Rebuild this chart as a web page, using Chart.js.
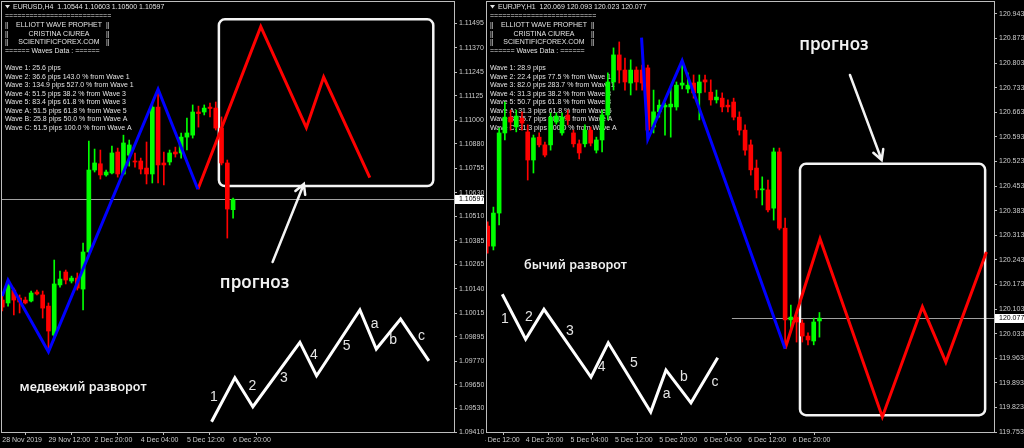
<!DOCTYPE html>
<html>
<head>
<meta charset="utf-8">
<script src="https://cdn.jsdelivr.net/npm/chart.js@4.4.1/dist/chart.umd.min.js"></script>
<style>
  html, body { margin: 0; padding: 0; background: #000; overflow: hidden; }
  #left { position: absolute; left: 0; top: 0; }
  #right { position: absolute; left: 485px; top: 0; }
</style>
</head>
<body>
<canvas id="left" width="484" height="448"></canvas>
<canvas id="right" width="539" height="448"></canvas>
<script>
// ===== EURUSD, H4 =====
var eurTimeLabels = ['28 Nov 2019', '29 Nov 12:00', '2 Dec 20:00', '4 Dec 04:00', '5 Dec 12:00', '6 Dec 20:00'];
var eurTimeIdx = [0, 8, 16, 24, 32, 40];
var eurPriceTicks = [1.09410, 1.09530, 1.09650, 1.09770, 1.09895, 1.10015, 1.10140, 1.10265, 1.10385,
                     1.10510, 1.10630, 1.10755, 1.10880, 1.11000, 1.11125, 1.11245, 1.11370, 1.11495];
var eurOpen  = [1.10083, 1.10068, 1.10134, 1.10093, 1.10083, 1.10078, 1.10124, 1.10109, 1.10052, 1.09904,
                1.10160, 1.10226, 1.10180, 1.10195, 1.10139, 1.10328, 1.10746, 1.10778, 1.10721, 1.10731,
                1.10838, 1.10726, 1.10822, 1.10792, 1.10792, 1.10756, 1.10726, 1.11067, 1.10782, 1.10787,
                1.10838, 1.10833, 1.10914, 1.10924, 1.11042, 1.11042, 1.11067, 1.11062, 1.10960, 1.10782, 1.10544];
var eurHigh  = [1.10103, 1.10185, 1.10144, 1.10109, 1.10098, 1.10129, 1.10134, 1.10129, 1.10068, 1.10287,
                1.10231, 1.10236, 1.10205, 1.10221, 1.10374, 1.10894, 1.10853, 1.10848, 1.10746, 1.10868,
                1.10858, 1.10924, 1.10899, 1.10833, 1.10807, 1.10889, 1.11083, 1.11158, 1.10838, 1.10848,
                1.10863, 1.10935, 1.11011, 1.11078, 1.11072, 1.11078, 1.11088, 1.11093, 1.11017, 1.10797, 1.10603];
var eurLow   = [1.10027, 1.10052, 1.10007, 1.10017, 1.10063, 1.10073, 1.10109, 1.09991, 1.09819, 1.09879,
                1.10149, 1.10165, 1.10170, 1.10134, 1.10032, 1.10323, 1.10736, 1.10700, 1.10715, 1.10726,
                1.10710, 1.10721, 1.10766, 1.10761, 1.10726, 1.10675, 1.10680, 1.10680, 1.10670, 1.10772,
                1.10812, 1.10807, 1.10848, 1.10909, 1.10965, 1.11027, 1.11017, 1.10950, 1.10772, 1.10399, 1.10500];
var eurClose = [1.10047, 1.10160, 1.10083, 1.10073, 1.10068, 1.10119, 1.10114, 1.10042, 1.09925, 1.10165,
                1.10190, 1.10185, 1.10195, 1.10144, 1.10328, 1.10746, 1.10782, 1.10721, 1.10736, 1.10833,
                1.10726, 1.10884, 1.10874, 1.10787, 1.10751, 1.10726, 1.11067, 1.10772, 1.10772, 1.10833,
                1.10828, 1.10914, 1.10935, 1.11042, 1.11034, 1.11062, 1.11060, 1.10960, 1.10782, 1.10547, 1.10597];
// elliott zigzag (blue) and forecast (red)
var eurWaveIdx = [0, 1, 8, 27, 33.9];
var eurWavePrice = [1.10103, 1.10185, 1.09819, 1.11158, 1.10648];
var eurForecastIdx = [33.9, 44.8, 52.7, 55.7, 63.7];
var eurForecastPrice = [1.10648, 1.11477, 1.10962, 1.11220, 1.10707];
// sketch of the wave count
var eurSketchIdx = [36.27, 40.31, 43.43, 51.58, 54.47, 61.98, 64.82, 69.03, 73.93];
var eurSketchPrice = [1.09462, 1.09687, 1.09539, 1.09867, 1.09697, 1.10032, 1.09833, 1.09986, 1.09773];
var eurSketchNames = ['1', '2', '3', '4', '5', 'a', 'b', 'c'];
var eurSketchNameIdx = [36.67, 43.33, 48.8, 54.0, 59.67, 64.52, 67.76, 72.67];
var eurSketchNamePrice = [1.09587, 1.09644, 1.09684, 1.09802, 1.09848, 1.09961, 1.09879, 1.09899];
var eurBoxIdx = [37.54, 74.7];
var eurBoxPrice = [1.11515, 1.10664];
var eurArrowIdx = [46.85, 52.27];
var eurArrowPrice = [1.10277, 1.10675];
var eurNotes = ['прогноз', 'медвежий разворот'];
var eurNoteIdx = [43.73, 14.0];
var eurNotePrice = [1.10170, 1.09639];
var eurWaves = ['Wave 1: 25.6 pips',
                'Wave 2: 36.6 pips 143.0 % from Wave 1',
                'Wave 3: 134.9 pips 527.0 % from Wave 1',
                'Wave 4: 51.5 pips 38.2 % from Wave 3',
                'Wave 5: 83.4 pips 61.8 % from Wave 3',
                'Wave A: 51.5 pips 61.8 % from Wave 5',
                'Wave B: 25.8 pips 50.0 % from Wave A',
                'Wave C: 51.5 pips 100.0 % from Wave A'];

// ===== EURJPY, H1 =====
var jpyTimeLabels = ['4 Dec 12:00', '4 Dec 20:00', '5 Dec 04:00', '5 Dec 12:00', '5 Dec 20:00', '6 Dec 04:00', '6 Dec 12:00', '6 Dec 20:00'];
var jpyTimeIdx = [-1, 6.64, 14.5, 22.26, 30, 37.82, 45.56, 53.32];
var jpyPriceTicks = [119.753, 119.823, 119.893, 119.963, 120.033, 120.103, 120.173, 120.243, 120.313,
                     120.383, 120.453, 120.523, 120.593, 120.663, 120.733, 120.803, 120.873, 120.943];
var jpyOpen  = [120.339, 120.282, 120.376, 120.604, 120.649, 120.621, 120.646, 120.607, 120.527, 120.592,
                120.570, 120.570, 120.635, 120.604, 120.655, 120.604, 120.573, 120.573, 120.612, 120.555,
                120.584, 120.655, 120.749, 120.826, 120.783, 120.746, 120.783, 120.783, 120.789, 120.621,
                120.664, 120.678, 120.678, 120.678, 120.740, 120.729, 120.746, 120.718, 120.755, 120.720,
                120.698, 120.703, 120.683, 120.692, 120.649, 120.612, 120.570, 120.504, 120.442, 120.442,
                120.390, 120.550, 120.333, 120.072, 120.080, 120.063, 120.026, 120.012, 120.069];
var jpyHigh  = [120.351, 120.393, 120.618, 120.692, 120.669, 120.669, 120.664, 120.627, 120.598, 120.604,
                120.578, 120.661, 120.661, 120.661, 120.669, 120.612, 120.584, 120.627, 120.621, 120.592,
                120.669, 120.775, 120.846, 120.863, 120.817, 120.812, 120.792, 120.797, 120.797, 120.726,
                120.698, 120.689, 120.735, 120.749, 120.810, 120.775, 120.769, 120.769, 120.769, 120.755,
                120.726, 120.718, 120.698, 120.703, 120.664, 120.627, 120.584, 120.527, 120.479, 120.470,
                120.561, 120.561, 120.362, 120.114, 120.086, 120.072, 120.035, 120.077, 120.093];
var jpyLow   = [120.262, 120.271, 120.342, 120.584, 120.612, 120.607, 120.612, 120.470, 120.490, 120.564,
                120.536, 120.555, 120.629, 120.598, 120.627, 120.564, 120.530, 120.564, 120.567, 120.547,
                120.550, 120.641, 120.726, 120.746, 120.726, 120.712, 120.726, 120.726, 120.586, 120.604,
                120.649, 120.598, 120.592, 120.669, 120.729, 120.718, 120.703, 120.641, 120.720, 120.683,
                120.689, 120.664, 120.664, 120.641, 120.598, 120.541, 120.484, 120.419, 120.399, 120.379,
                120.356, 120.328, 120.000, 120.043, 120.009, 120.009, 120.001, 120.001, 120.023];
var jpyClose = [120.282, 120.376, 120.604, 120.649, 120.635, 120.652, 120.632, 120.527, 120.590, 120.570,
                120.541, 120.649, 120.652, 120.649, 120.641, 120.573, 120.547, 120.612, 120.575, 120.584,
                120.655, 120.749, 120.826, 120.783, 120.749, 120.783, 120.749, 120.746, 120.612, 120.664,
                120.683, 120.683, 120.686, 120.740, 120.746, 120.740, 120.718, 120.749, 120.749, 120.698,
                120.706, 120.678, 120.678, 120.649, 120.612, 120.555, 120.499, 120.442, 120.444, 120.385,
                120.550, 120.333, 120.072, 120.080, 120.066, 120.026, 120.015, 120.066, 120.077];
var jpyWaveIdx = [26.9, 28, 34, 52];
var jpyWavePrice = [120.875, 120.586, 120.810, 119.990];
var jpyForecastIdx = [52, 58.1, 69, 76, 80.1, 87.2];
var jpyForecastPrice = [119.990, 120.303, 119.796, 120.109, 119.952, 120.265];
var jpySketchIdx = [2.55, 6.64, 9.84, 18.06, 21.08, 28.5, 31.17, 35.54, 40.21];
var jpySketchPrice = [120.145, 120.017, 120.102, 119.909, 120.007, 119.810, 119.929, 119.836, 119.964];
var jpySketchNames = ['1', '2', '3', '4', '5', 'a', 'b', 'c'];
var jpySketchNameIdx = [3.02, 7.22, 14.39, 19.93, 25.58, 31.29, 34.32, 39.74];
var jpySketchNamePrice = [120.074, 120.081, 120.041, 119.937, 119.948, 119.861, 119.910, 119.896];
var jpyBoxIdx = [54.6, 86.97];
var jpyBoxPrice = [120.516, 119.801];
var jpyArrowIdx = [63.34, 68.88];
var jpyArrowPrice = [120.769, 120.527];
var jpyNotes = ['прогноз', 'бычий разворот'];
var jpyNoteIdx = [60.54, 15.35];
var jpyNotePrice = [120.854, 120.228];
var jpyWaves = ['Wave 1: 28.9 pips',
                'Wave 2: 22.4 pips 77.5 % from Wave 1',
                'Wave 3: 82.0 pips 283.7 % from Wave 1',
                'Wave 4: 31.3 pips 38.2 % from Wave 3',
                'Wave 5: 50.7 pips 61.8 % from Wave 3',
                'Wave A: 31.3 pips 61.8 % from Wave 5',
                'Wave B: 15.7 pips 50.0 % from Wave A',
                'Wave C: 31.3 pips 100.0 % from Wave A'];

var SMALL = "7px 'Liberation Sans', Arial, sans-serif";
var GREY = '#cccccc';

function pts(xs, ys) {
  return xs.map(function(v, i) { return {x: v, y: ys[i]}; });
}

function candleSets(open, high, low, close) {
  var body = [], wick = [], col = [];
  for (var i = 0; i < open.length; i++) {
    body.push({x: i, y: [open[i], close[i]]});
    wick.push({x: i, y: [low[i], high[i]]});
    col.push(close[i] >= open[i] ? '#00ff00' : '#ff0000');
  }
  return [
    {type: 'bar', data: body, backgroundColor: col, barThickness: 4, minBarLength: 1, grouped: false, order: 3},
    {type: 'bar', data: wick, backgroundColor: col, barThickness: 1, grouped: false, order: 4}
  ];
}

function arrow(ctx, x0, y0, x1, y1) {
  var ang = Math.atan2(y1 - y0, x1 - x0), len = 11, spread = 0.5;
  ctx.beginPath();
  ctx.moveTo(x0, y0);
  ctx.lineTo(x1, y1);
  ctx.moveTo(x1 - len * Math.cos(ang - spread), y1 - len * Math.sin(ang - spread));
  ctx.lineTo(x1, y1);
  ctx.lineTo(x1 - len * Math.cos(ang + spread), y1 - len * Math.sin(ang + spread));
  ctx.stroke();
}

// MT4 style overlay: info text, price line, boxes, arrows, notes, frame
var mtPlugin = {
  id: 'mt',
  beforeDatasetsDraw: function(chart, args, o) {
    var ctx = chart.ctx, a = chart.chartArea, xs = chart.scales.x, ys = chart.scales.y;
    ctx.save();
    // current price line
    var py = Math.round(ys.getPixelForValue(o.last)) + 0.5;
    var px0 = o.lineFrom == null ? a.left : xs.getPixelForValue(o.lineFrom);
    ctx.strokeStyle = '#a0a0a0';
    ctx.lineWidth = 1;
    ctx.beginPath(); ctx.moveTo(px0, py); ctx.lineTo(a.right, py); ctx.stroke();

    // header and waves data
    ctx.fillStyle = '#e2e2e2';
    ctx.font = SMALL;
    ctx.textBaseline = 'middle';
    ctx.textAlign = 'left';
    ctx.beginPath();
    ctx.moveTo(a.left + 3, 5); ctx.lineTo(a.left + 8, 5); ctx.lineTo(a.left + 5.5, 8.5);
    ctx.closePath(); ctx.fill();
    ctx.fillText(o.header, a.left + 11, 7);
    var rule = '==========================';
    ctx.fillText(rule, a.left + 3, 16);
    var title = ['ELLIOTT WAVE PROPHET', 'CRISTINA CIUREA', 'SCIENTIFICFOREX.COM'];
    for (var i = 0; i < 3; i++) {
      var ty = 25 + i * 8.7;
      ctx.textAlign = 'left';
      ctx.fillText('||', a.left + 3, ty);
      ctx.fillText('||', a.left + 104, ty);
      ctx.textAlign = 'center';
      ctx.fillText(title[i], a.left + 57, ty);
    }
    ctx.textAlign = 'left';
    ctx.fillText('====== Waves Data : ======', a.left + 3, 51.5);
    o.waves.forEach(function(t, k) { ctx.fillText(t, a.left + 3, 68.3 + k * 8.5); });

    // forecast boxes
    ctx.strokeStyle = '#f4f4f4';
    ctx.lineWidth = 2.5;
    var bx0 = xs.getPixelForValue(o.boxIdx[0]), bx1 = xs.getPixelForValue(o.boxIdx[1]);
    var by0 = ys.getPixelForValue(o.boxPrice[0]), by1 = ys.getPixelForValue(o.boxPrice[1]);
    ctx.beginPath();
    ctx.roundRect(bx0, by0, bx1 - bx0, by1 - by0, 6);
    ctx.stroke();
    ctx.restore();
  },
  afterDatasetsDraw: function(chart, args, o) {
    var ctx = chart.ctx, a = chart.chartArea, xs = chart.scales.x, ys = chart.scales.y;
    ctx.save();
    ctx.beginPath(); ctx.rect(a.left, a.top, a.right - a.left, a.bottom - a.top); ctx.clip();
    // arrow
    ctx.strokeStyle = '#f4f4f4';
    ctx.lineWidth = 2.5;
    ctx.lineCap = 'round';
    arrow(ctx, xs.getPixelForValue(o.arrowIdx[0]), ys.getPixelForValue(o.arrowPrice[0]),
               xs.getPixelForValue(o.arrowIdx[1]), ys.getPixelForValue(o.arrowPrice[1]));
    // wave names on the sketch
    ctx.fillStyle = '#e4e4e4';
    ctx.font = "14px 'Liberation Sans', Arial, sans-serif";
    ctx.textAlign = 'center';
    ctx.textBaseline = 'middle';
    o.names.forEach(function(t, k) {
      ctx.fillText(t, xs.getPixelForValue(o.nameIdx[k]), ys.getPixelForValue(o.namePrice[k]));
    });
    // notes
    ctx.fillStyle = '#f2f2f2';
    o.notes.forEach(function(t, k) {
      ctx.font = (k === 0 ? "600 17px" : "600 12.5px") + " 'Noto Sans', sans-serif";
      ctx.fillText(t, xs.getPixelForValue(o.noteIdx[k]), ys.getPixelForValue(o.notePrice[k]));
    });
    ctx.restore();
  },
  afterDraw: function(chart, args, o) {
    var ctx = chart.ctx, a = chart.chartArea, ys = chart.scales.y;
    ctx.save();
    ctx.strokeStyle = '#bdbdbd';
    ctx.lineWidth = 1;
    ctx.strokeRect(a.left - 0.5, a.top - 0.5, a.right - a.left + 1, a.bottom - a.top + 1);
    // last price tag
    var py = Math.round(ys.getPixelForValue(o.last));
    ctx.fillStyle = '#ffffff';
    ctx.fillRect(a.right + 1, py - 4, chart.width - a.right - 1, 9);
    ctx.fillStyle = '#000000';
    ctx.font = SMALL;
    ctx.textBaseline = 'middle';
    ctx.textAlign = 'left';
    ctx.fillText(o.last.toFixed(o.digits), a.right + 5, py + 0.5);
    ctx.restore();
  }
};

function makeChart(id, c) {
  var sets = candleSets(c.open, c.high, c.low, c.close);
  sets.push({type: 'line', data: pts(c.waveIdx, c.wavePrice), borderColor: '#0000ff', borderWidth: 3,
             pointRadius: 0, tension: 0, order: 1});
  sets.push({type: 'line', data: pts(c.fcIdx, c.fcPrice), borderColor: '#ff0000', borderWidth: 3,
             pointRadius: 0, tension: 0, order: 2});
  sets.push({type: 'line', data: pts(c.skIdx, c.skPrice), borderColor: '#ffffff', borderWidth: 3,
             pointRadius: 0, tension: 0, borderJoinStyle: 'miter', order: 5});
  return new Chart(document.getElementById(id), {
    type: 'bar',
    data: {datasets: sets},
    options: {
      responsive: false,
      animation: false,
      events: [],
      layout: {padding: {left: 2, top: 2, right: 0, bottom: 0}},
      plugins: {
        legend: {display: false},
        tooltip: {enabled: false},
        mt: c.overlay
      },
      scales: {
        x: {
          type: 'linear', min: c.xMin, max: c.xMax, offset: false,
          border: {display: false},
          grid: {drawOnChartArea: false, drawTicks: true, tickLength: 3, tickColor: '#bdbdbd'},
          ticks: {color: GREY, font: {family: "'Liberation Sans', Arial", size: 7}, padding: 1,
                  align: 'start', maxRotation: 0, autoSkip: false,
                  callback: function(v, i) { return c.timeLabels[i]; }},
          afterBuildTicks: function(s) { s.ticks = c.timeIdx.map(function(v) { return {value: v}; }); },
          afterFit: function(s) { s.height = 16; s.paddingLeft = 0; s.paddingRight = 0; }
        },
        y: {
          position: 'right', min: c.yMin, max: c.yMax,
          border: {display: false},
          grid: {drawOnChartArea: false, drawTicks: true, tickLength: 3, tickColor: '#bdbdbd'},
          ticks: {color: GREY, font: {family: "'Liberation Sans', Arial", size: 7}, padding: 2,
                  callback: function(v) { return v.toFixed(c.overlay.digits); }},
          afterBuildTicks: function(s) { s.ticks = c.priceTicks.map(function(v) { return {value: v}; }); },
          afterFit: function(s) { s.width = 30; s.paddingTop = 0; s.paddingBottom = 0; }
        }
      }
    },
    plugins: [mtPlugin]
  });
}

makeChart('left', {
  open: eurOpen, high: eurHigh, low: eurLow, close: eurClose,
  waveIdx: eurWaveIdx, wavePrice: eurWavePrice,
  fcIdx: eurForecastIdx, fcPrice: eurForecastPrice,
  skIdx: eurSketchIdx, skPrice: eurSketchPrice,
  timeLabels: eurTimeLabels, timeIdx: eurTimeIdx, priceTicks: eurPriceTicks,
  xMin: -0.05, xMax: 78.29, yMin: 1.09410, yMax: 1.11603,
  overlay: {
    header: 'EURUSD,H4  1.10544 1.10603 1.10500 1.10597',
    waves: eurWaves, last: eurClose[eurClose.length - 1], digits: 5, lineFrom: null,
    boxIdx: eurBoxIdx, boxPrice: eurBoxPrice,
    arrowIdx: eurArrowIdx, arrowPrice: eurArrowPrice,
    names: eurSketchNames, nameIdx: eurSketchNameIdx, namePrice: eurSketchNamePrice,
    notes: eurNotes, noteIdx: eurNoteIdx, notePrice: eurNotePrice
  }
});

makeChart('right', {
  open: jpyOpen, high: jpyHigh, low: jpyLow, close: jpyClose,
  waveIdx: jpyWaveIdx, wavePrice: jpyWavePrice,
  fcIdx: jpyForecastIdx, fcPrice: jpyForecastPrice,
  skIdx: jpySketchIdx, skPrice: jpySketchPrice,
  timeLabels: jpyTimeLabels, timeIdx: jpyTimeIdx, priceTicks: jpyPriceTicks,
  xMin: -0.12, xMax: 88.52, yMin: 119.753, yMax: 120.9766,
  overlay: {
    header: 'EURJPY,H1  120.069 120.093 120.023 120.077',
    waves: jpyWaves, last: jpyClose[jpyClose.length - 1], digits: 3, lineFrom: 42.7,
    boxIdx: jpyBoxIdx, boxPrice: jpyBoxPrice,
    arrowIdx: jpyArrowIdx, arrowPrice: jpyArrowPrice,
    names: jpySketchNames, nameIdx: jpySketchNameIdx, namePrice: jpySketchNamePrice,
    notes: jpyNotes, noteIdx: jpyNoteIdx, notePrice: jpyNotePrice
  }
});
</script>
</body>
</html>
